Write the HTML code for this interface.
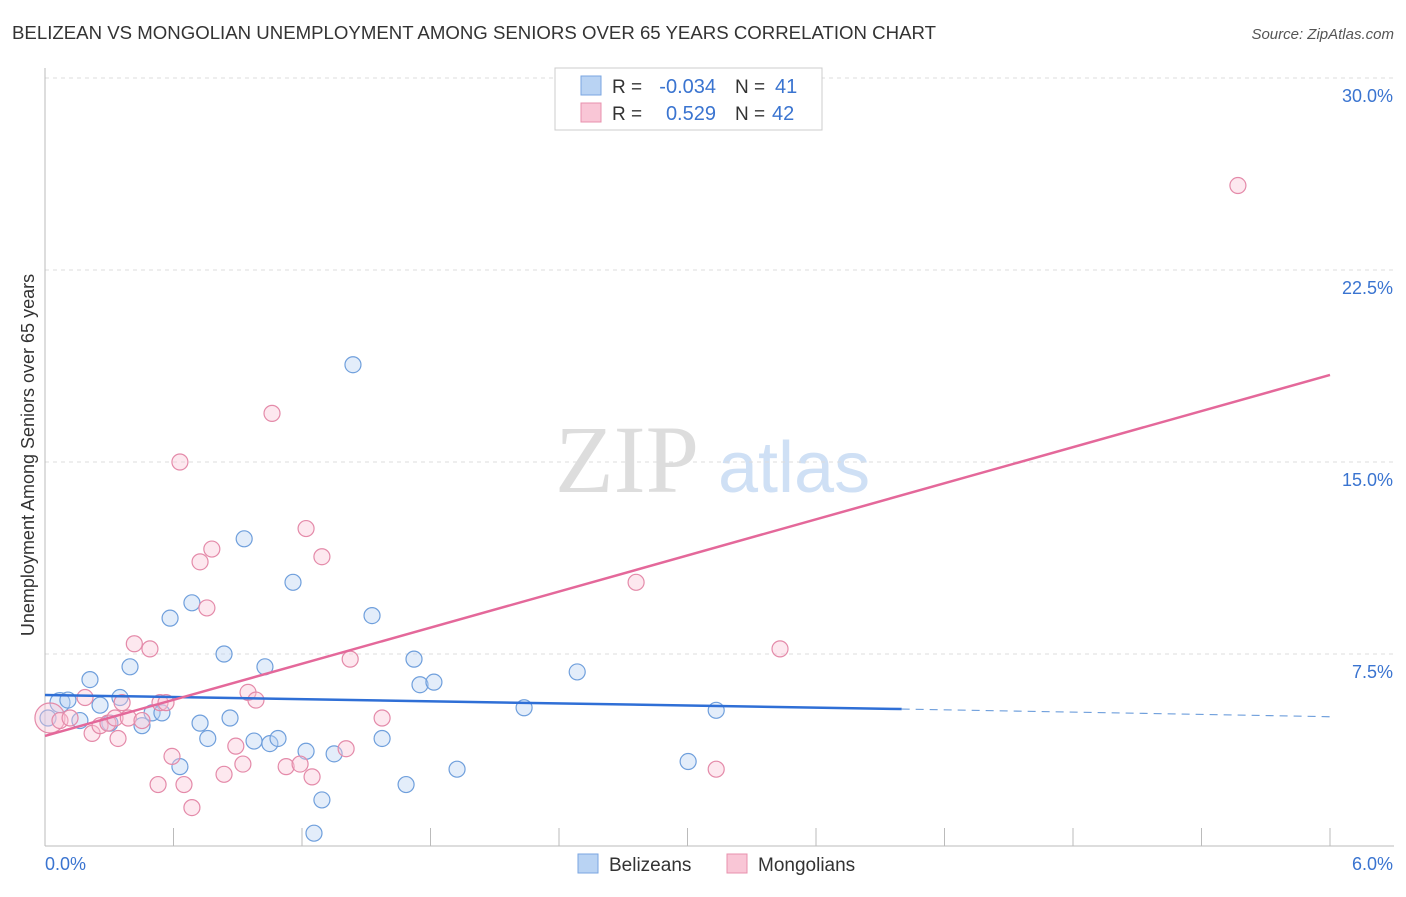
<!DOCTYPE html>
<html><head><meta charset="utf-8"><style>
body{margin:0;background:#fff;font-family:"Liberation Sans",sans-serif;}
#c{position:relative;width:1406px;height:892px;}
</style></head><body>
<div id="c">
<svg id="s" width="1406" height="892">
<text x="12" y="39" font-size="18" fill="#333" textLength="924" lengthAdjust="spacingAndGlyphs">BELIZEAN VS MONGOLIAN UNEMPLOYMENT AMONG SENIORS OVER 65 YEARS CORRELATION CHART</text>
<text x="1394" y="39" font-size="15" fill="#555" text-anchor="end" font-style="italic">Source: ZipAtlas.com</text>
<text transform="translate(34,455) rotate(-90)" font-size="18" fill="#333" text-anchor="middle">Unemployment Among Seniors over 65 years</text>
<text x="555" y="492" font-size="96" fill="#ddd" font-family="Liberation Serif">ZIP</text>
<text x="718" y="492" font-size="72" fill="#cfe0f5">atlas</text>
<g id="grid"></g><g id="pts"></g><g id="trend"></g>
<g>
<rect x="555" y="68" width="267" height="62" fill="#fff" stroke="#ccc"/>
<rect x="581" y="76" width="20" height="19" fill="#b9d3f3" stroke="#7aa6e0"/>
<rect x="581" y="103" width="20" height="19" fill="#f9c6d6" stroke="#e890ad"/>
<text x="612" y="93" font-size="19" fill="#333">R =</text>
<text x="716" y="93" font-size="20" fill="#3a74d0" text-anchor="end">-0.034</text>
<text x="735" y="93" font-size="19" fill="#333">N =</text>
<text x="775" y="93" font-size="20" fill="#3a74d0">41</text>
<text x="612" y="120" font-size="19" fill="#333">R =</text>
<text x="716" y="120" font-size="20" fill="#3a74d0" text-anchor="end">0.529</text>
<text x="735" y="120" font-size="19" fill="#333">N =</text>
<text x="772" y="120" font-size="20" fill="#3a74d0">42</text>
</g>
<g>
<rect x="578" y="854" width="20" height="19" fill="#b9d3f3" stroke="#7aa6e0"/>
<text x="609" y="871" font-size="19" fill="#333">Belizeans</text>
<rect x="727" y="854" width="20" height="19" fill="#f9c6d6" stroke="#e890ad"/>
<text x="758" y="871" font-size="19" fill="#333">Mongolians</text>
</g>
</svg></div>
<script>
const yTicks=[7.5,15,22.5,30];
const yTickLabels=["7.5%","15.0%","22.5%","30.0%"];
const xTickLabels=["0.0%","6.0%"];
const blueX=[0.07,0.107,0.21,0.257,0.303,0.35,0.397,0.453,0.5,0.546,0.584,0.63,0.686,0.724,0.76,0.836,0.864,0.93,0.976,1.027,1.05,1.088,1.158,1.219,1.256,1.293,1.35,1.438,1.527,1.574,1.686,1.723,1.751,1.816,1.924,2.237,2.485,3.003,3.134,0.014,0.163];
const blueY=[5.6,5.7,6.5,5.5,4.8,5.8,7.0,4.7,5.2,5.2,8.9,3.1,9.5,4.8,4.2,7.5,5.0,12.0,4.1,7.0,4.0,4.2,10.3,3.7,0.5,1.8,3.6,18.8,9.0,4.2,2.4,7.3,6.3,6.4,3.0,5.4,6.8,3.3,5.3,5.0,4.9];
const pinkX=[0.023,0.07,0.187,0.22,0.257,0.294,0.327,0.36,0.389,0.417,0.453,0.49,0.537,0.565,0.593,0.63,0.649,0.686,0.724,0.756,0.779,0.836,0.891,0.924,0.948,0.985,1.06,1.126,1.191,1.219,1.247,1.293,1.406,1.425,1.574,2.76,3.134,3.432,5.57,0.117,0.528,0.341];
const pinkY=[5.0,4.9,5.8,4.4,4.7,4.8,5.0,5.6,5.0,7.9,4.9,7.7,5.6,5.6,3.5,15.0,2.4,1.5,11.1,9.3,11.6,2.8,3.9,3.2,6.0,5.7,16.9,3.1,3.2,12.4,2.7,11.3,3.8,7.3,5.0,10.3,3.0,7.7,25.8,5.0,2.4,4.2];
const trendBlue=[[0,5.9],[4.0,5.35],[6.0,5.05]];
const trendPink=[[0,4.3],[6.0,18.4]];
const X0=45,X1=1330,Y0=846,Y30=78;
const sx=v=>X0+v/6*(X1-X0), sy=v=>Y0-v/30*(Y0-Y30);
const NS="http://www.w3.org/2000/svg";
function mk(t,a,p){const e=document.createElementNS(NS,t);for(const k in a)e.setAttribute(k,a[k]);p.appendChild(e);return e;}
const g=document.getElementById('grid');
yTicks.forEach((v,i)=>{
 const l=mk('line',{x1:X0,x2:1394,y1:sy(v),y2:sy(v),stroke:'#ddd','stroke-dasharray':'4,4'},g);
 
 
 const t=mk('text',{x:1393,y:sy(v)+24,'font-size':18,fill:'#3a74d0','text-anchor':'end'},g);t.textContent=yTickLabels[i];
 
 
});
const ax=mk('line',{x1:X0,x2:X0,y1:68,y2:Y0,stroke:'#bbb'},g);


const bx=mk('line',{x1:X0,x2:1394,y1:Y0,y2:Y0,stroke:'#bbb'},g);


for(let i=0;i<=10;i++){const x=X0+i*(X1-X0)/10;const tk=mk('line',{x1:x,x2:x,y1:Y0,y2:Y0-18,stroke:'#bbb'},g);
 
 }
[[0,'start',45],[6,'end',1393]].forEach((d,i)=>{const t=mk('text',{x:d[2],y:870,'font-size':18,fill:'#3a74d0','text-anchor':d[1]},g);t.textContent=xTickLabels[i];
 
 });
const p=document.getElementById('pts');
function dots(xs,ys,fill,st,name){xs.forEach((x,i)=>{const r=(i==0&&name=='pink-point')?15:(i==0?10:8);
 const c=mk('circle',{cx:sx(x),cy:sy(ys[i]),r:r,fill:fill,'fill-opacity':0.4,stroke:st,'stroke-width':1.2},p);
 
 });}
dots(blueX,blueY,'#b9d3f3','#6f9fdc','blue-point');
dots(pinkX,pinkY,'#f9c6d6','#e48aa9','pink-point');
const tg=document.getElementById('trend');
const b1=mk('line',{x1:sx(trendBlue[0][0]),y1:sy(trendBlue[0][1]),x2:sx(trendBlue[1][0]),y2:sy(trendBlue[1][1]),stroke:'#2f6fd6','stroke-width':2.5},tg);


const b2=mk('line',{x1:sx(trendBlue[1][0]),y1:sy(trendBlue[1][1]),x2:sx(trendBlue[2][0]),y2:sy(trendBlue[2][1]),stroke:'#6f9fdc','stroke-width':1.2,'stroke-dasharray':'8,6'},tg);


const p1=mk('line',{x1:sx(trendPink[0][0]),y1:sy(trendPink[0][1]),x2:sx(trendPink[1][0]),y2:sy(trendPink[1][1]),stroke:'#e4689a','stroke-width':2.5},tg);


</script></body></html>
